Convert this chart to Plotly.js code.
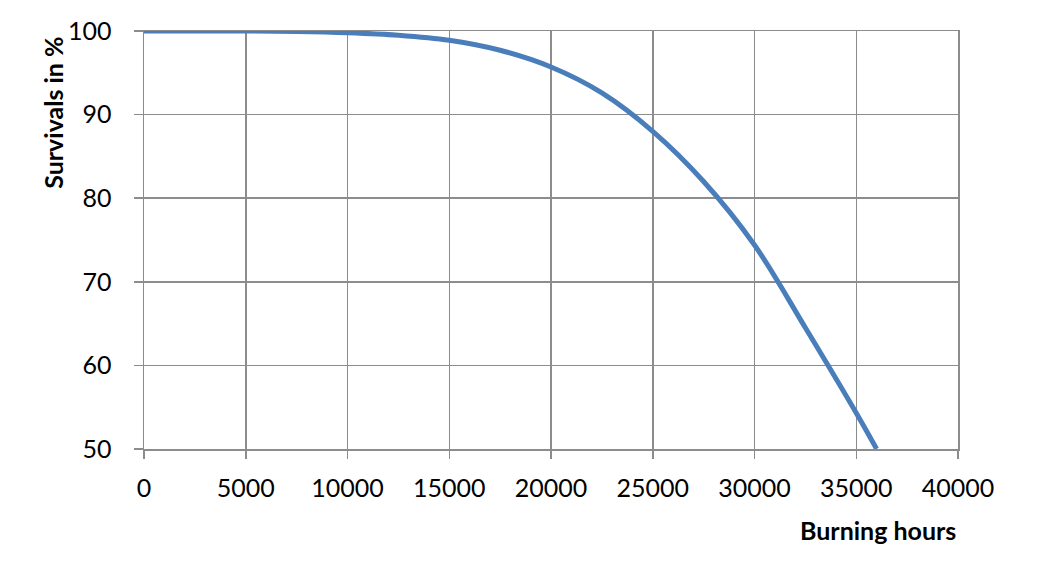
<!DOCTYPE html>
<html>
<head>
<meta charset="utf-8">
<script src="https://cdn.plot.ly/plotly-3.0.1.min.js"></script>
<style>
  html, body { margin: 0; padding: 0; background: #fff; }
  #chart { width: 1039px; height: 578px; }
</style>
</head>
<body>
<div id="chart"></div>
<script>
// burning hours vs. survival rate
const hours = [0, 2500, 5000, 7500, 10000, 12500, 15000, 17500, 20000, 22500, 25000, 27500, 30000, 32500, 35000, 36000];
const survivals = [100, 100, 100, 99.95, 99.8, 99.5, 98.9, 97.7, 95.7, 92.6, 88.0, 82.0, 74.4, 64.5, 54.3, 50];

const xTicks = [0, 5000, 10000, 15000, 20000, 25000, 30000, 35000, 40000];
const yTicks = [50, 60, 70, 80, 90, 100];

const gridColor = '#8c8c8c';
const font = 'Lato, "Open Sans", sans-serif';

const trace = {
    x: hours,
    y: survivals,
    type: 'scatter',
    mode: 'lines',
    line: { color: '#4a7ebb', width: 5, shape: 'spline', smoothing: 1 },
    hoverinfo: 'skip'
};

const layout = {
    width: 1039,
    height: 578,
    margin: { l: 144, r: 81, t: 31, b: 129 },
    paper_bgcolor: '#fff',
    plot_bgcolor: '#fff',
    showlegend: false,
    font: { family: font, size: 25, color: '#000' },
    xaxis: {
        range: [0, 40000],
        tickvals: xTicks,
        ticktext: xTicks.map(String),
        showgrid: true,
        gridcolor: gridColor,
        gridwidth: 1.5,
        zeroline: false,
        showline: true,
        linecolor: gridColor,
        linewidth: 1.5,
        mirror: true,
        ticks: 'outside',
        ticklen: 8,
        tickcolor: gridColor,
        tickwidth: 1.5,
        ticklabelstandoff: 8
    },
    yaxis: {
        range: [50, 100],
        tickvals: yTicks,
        ticktext: yTicks.map(String),
        showgrid: true,
        gridcolor: gridColor,
        gridwidth: 1.5,
        zeroline: false,
        showline: true,
        linecolor: gridColor,
        linewidth: 1.5,
        mirror: true,
        ticks: 'outside',
        ticklen: 9,
        tickcolor: gridColor,
        tickwidth: 1.5,
        ticklabelstandoff: 17
    },
    annotations: [
        {
            text: '<b>Survivals in %</b>',
            xref: 'paper', yref: 'paper',
            x: -0.112, y: 1.0,
            xanchor: 'center', yanchor: 'top',
            yshift: -4,
            textangle: -90,
            showarrow: false,
            font: { family: font, size: 25, color: '#000' }
        },
        {
            text: '<b>Burning hours</b>',
            xref: 'paper', yref: 'paper',
            x: 1.0, y: 0,
            xanchor: 'right', yanchor: 'middle',
            yshift: -81,
            showarrow: false,
            font: { family: font, size: 25, color: '#000' }
        }
    ]
};

Plotly.newPlot('chart', [trace], layout, { displayModeBar: false, staticPlot: true });
</script>
</body>
</html>
